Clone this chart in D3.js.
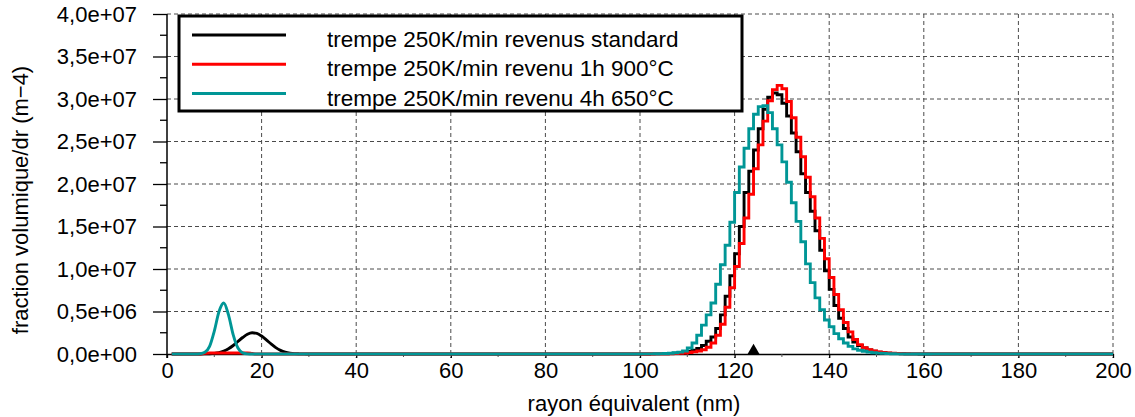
<!DOCTYPE html>
<html>
<head>
<meta charset="utf-8">
<script src="https://cdn.jsdelivr.net/npm/d3@7"></script>
<style>
  body { margin: 0; background: #fff; }
  text { font-family: "Liberation Sans", Arial, sans-serif; fill: #000; }
</style>
</head>
<body>
<div id="chart"></div>
<script>
//data, values in units of 1e7 m-4
const unit = 1e7;

const xTicks = [0, 20, 40, 60, 80, 100, 120, 140, 160, 180, 200];
const xMinorTicks = [10, 30, 50, 70, 90, 110, 130, 150, 170, 190];
const yTicks = [0, 0.5e7, 1e7, 1.5e7, 2e7, 2.5e7, 3e7, 3.5e7, 4e7];
const yTickLabels = ["0,0e+00", "0,5e+06", "1,0e+07", "1,5e+07", "2,0e+07",
                     "2,5e+07", "3,0e+07", "3,5e+07", "4,0e+07"];
const yMinorTicks = [0.25e7, 0.75e7, 1.25e7, 1.75e7, 2.25e7, 2.75e7, 3.25e7, 3.75e7];

const seriesNames = ["trempe 250K/min revenus standard",
                     "trempe 250K/min revenu 1h 900°C",
                     "trempe 250K/min revenu 4h 650°C"];
const seriesColors = ["#000000", "#ff0000", "#009696"];

//small population, sampled every nm (smooth part of the curves)
const smallRadii = [1, 2, 3, 4, 5, 6, 7, 8, 9, 10, 11, 12, 13, 14, 15,
                    16, 17, 18, 19, 20, 21, 22, 23, 24, 25, 26, 27, 28, 29, 30];
const smallStandard = [0, 0, 0, 0, 0, 0, 0, 0.001, 0.003, 0.008, 0.017, 0.034, 0.061, 0.10, 0.147,
                       0.194, 0.232, 0.25, 0.242, 0.211, 0.166, 0.118, 0.075, 0.043, 0.022, 0.01, 0.004, 0.002, 0.001, 0];
const small900 = [0, 0, 0, 0, 0, 0, 0, 0.008, 0.012, 0.012, 0.012, 0.012, 0.012, 0.012, 0.012,
                  0.012, 0.012, 0.006, 0, 0, 0, 0, 0, 0, 0, 0, 0, 0, 0, 0];
const small650 = [0, 0, 0, 0, 0, 0, 0.003, 0.02, 0.09, 0.27, 0.50, 0.60, 0.46, 0.225, 0.07,
                  0.014, 0.002, 0, 0, 0, 0, 0, 0, 0, 0, 0, 0, 0, 0, 0];

//main population, 1 nm bins starting at binStart
const binStart = 100;
const binsStandard = [0, 0, 0.001, 0.001, 0.002, 0.003, 0.005, 0.008, 0.012, 0.02,
                      0.03, 0.045, 0.065, 0.10, 0.15, 0.20, 0.30, 0.46, 0.68, 0.92,
                      1.18, 1.50, 1.90, 2.15, 2.40, 2.65, 2.88, 3.02, 3.07, 3.05,
                      2.95, 2.80, 2.60, 2.38, 2.12, 1.90, 1.68, 1.45, 1.22, 0.98,
                      0.76, 0.57, 0.42, 0.30, 0.20, 0.14, 0.10, 0.07, 0.048, 0.033,
                      0.022, 0.015, 0.010, 0.007, 0.005, 0.003, 0.002, 0.001, 0.001];
const bins900 = [0, 0, 0, 0.001, 0.001, 0.002, 0.003, 0.005, 0.008, 0.012,
                 0.018, 0.025, 0.035, 0.05, 0.08, 0.13, 0.22, 0.35, 0.55, 0.78,
                 1.03, 1.30, 1.60, 1.88, 2.18, 2.46, 2.74, 2.98, 3.11, 3.16,
                 3.12, 2.97, 2.78, 2.55, 2.32, 2.08, 1.85, 1.60, 1.36, 1.12,
                 0.90, 0.70, 0.52, 0.37, 0.26, 0.17, 0.11, 0.075, 0.05, 0.035,
                 0.024, 0.016, 0.011, 0.008, 0.006, 0.004, 0.003, 0.002, 0.002, 0.001,
                 0.001, 0.001];
const bins650 = [0.001, 0.001, 0.002, 0.003, 0.004, 0.006, 0.009, 0.014, 0.022, 0.035,
                 0.07, 0.13, 0.22, 0.34, 0.46, 0.60, 0.82, 1.05, 1.28, 1.55,
                 1.90, 2.20, 2.42, 2.65, 2.82, 2.91, 2.92, 2.84, 2.65, 2.46,
                 2.26, 2.02, 1.78, 1.56, 1.32, 1.06, 0.84, 0.66, 0.52, 0.40,
                 0.32, 0.24, 0.18, 0.13, 0.09, 0.06, 0.045, 0.032, 0.022, 0.015,
                 0.010, 0.007, 0.005, 0.003, 0.002, 0.001];

const markerRadii = [124];

const xTitle = "rayon équivalent (nm)";
const yTitle = "fraction volumique/dr (m\u22124)";

//layout
const width = 1135,
    height = 417,
    plotLeft = 167,
    plotRight = 1113,
    plotTop = 14,
    plotBottom = 354,
    fontSize = 22;

const x = d3.scaleLinear().domain([0, 200]).range([plotLeft, plotRight]);
const y = d3.scaleLinear().domain([0, 4e7]).range([plotBottom, plotTop]);

const series = [
  {name: seriesNames[0], color: seriesColors[0], small: smallStandard, bins: binsStandard},
  {name: seriesNames[1], color: seriesColors[1], small: small900, bins: bins900},
  {name: seriesNames[2], color: seriesColors[2], small: small650, bins: bins650}
];

let svg = d3.select("#chart").append("svg")
    .attr("width", width)
    .attr("height", height)
    .style("display", "block");

//dashed grid
const gridColor = "#4a4a4a";
svg.append("g").selectAll("line")
    .data(yTicks.slice(1))
  .enter().append("line")
    .attr("x1", plotLeft).attr("x2", plotRight)
    .attr("y1", d => y(d)).attr("y2", d => y(d))
    .attr("stroke", gridColor).attr("stroke-width", 1)
    .attr("stroke-dasharray", "4,3");

svg.append("g").selectAll("line")
    .data(xTicks.slice(1))
  .enter().append("line")
    .attr("x1", d => x(d)).attr("x2", d => x(d))
    .attr("y1", plotTop).attr("y2", plotBottom + 4)
    .attr("stroke", gridColor).attr("stroke-width", 1)
    .attr("stroke-dasharray", "4,3");

//axes
let yAxis = svg.append("g")
    .attr("transform", "translate(" + plotLeft + ",0)")
    .call(d3.axisLeft(y)
      .tickValues(yTicks)
      .tickFormat((d, i) => yTickLabels[i])
      .tickSize(14)
      .tickSizeOuter(0)
      .tickPadding(16));

yAxis.selectAll("text").style("font-size", fontSize + "px").attr("fill", "#000");
yAxis.selectAll("line").attr("stroke", "#000").attr("stroke-width", 1.3);
yAxis.select(".domain").attr("stroke", "#000").attr("stroke-width", 1.5)
    .attr("d", "M0," + plotTop + "V" + (plotBottom + 4));

svg.append("g").selectAll("line")
    .data(yMinorTicks)
  .enter().append("line")
    .attr("x1", plotLeft - 7).attr("x2", plotLeft)
    .attr("y1", d => y(d)).attr("y2", d => y(d))
    .attr("stroke", "#000").attr("stroke-width", 1.3);

let xAxis = svg.append("g")
    .attr("transform", "translate(0," + plotBottom + ")")
    .call(d3.axisBottom(x)
      .tickValues(xTicks)
      .tickFormat(d3.format("d"))
      .tickSize(4)
      .tickSizeOuter(0)
      .tickPadding(4));

xAxis.selectAll("text").style("font-size", fontSize + "px").attr("fill", "#000");
xAxis.selectAll("line").attr("stroke", "#000").attr("stroke-width", 1.3);
xAxis.select(".domain").attr("stroke", "#000").attr("stroke-width", 1.5);

svg.append("g").selectAll("line")
    .data(xMinorTicks)
  .enter().append("line")
    .attr("x1", d => x(d)).attr("x2", d => x(d))
    .attr("y1", plotBottom).attr("y2", plotBottom + 3)
    .attr("stroke", "#555").attr("stroke-width", 1);

//titles
svg.append("text")
    .attr("x", 634)
    .attr("y", 411)
    .attr("text-anchor", "middle")
    .style("font-size", fontSize + "px")
    .text(xTitle);

svg.append("text")
    .attr("transform", "translate(20,200) rotate(-90)")
    .attr("text-anchor", "middle")
    .attr("dominant-baseline", "central")
    .style("font-size", fontSize + "px")
    .text(yTitle);

//curves: smooth small population then 1 nm step bins
const smoothLine = d3.line()
    .x(d => x(d[0]))
    .y(d => y(d[1] * unit))
    .curve(d3.curveMonotoneX);

const stepLine = d3.line()
    .x(d => x(d[0]))
    .y(d => y(d[1] * unit))
    .curve(d3.curveStepAfter);

let curves = svg.append("g");

series.forEach(function(s) {
  let smallPts = smallRadii.map((r, i) => [r, s.small[i]]);
  let lastR = smallRadii[smallRadii.length - 1];
  let stepPts = [[lastR, 0]]
    .concat(s.bins.map((v, i) => [binStart + i, v]))
    .concat([[binStart + s.bins.length, 0], [200, 0]]);

  curves.append("path")
      .attr("d", smoothLine(smallPts))
      .attr("fill", "none")
      .attr("stroke", s.color)
      .attr("stroke-width", 2.9)
      .attr("stroke-linejoin", "round");

  curves.append("path")
      .attr("d", stepLine(stepPts))
      .attr("fill", "none")
      .attr("stroke", s.color)
      .attr("stroke-width", 2.9)
      .attr("stroke-linejoin", "miter");
});

//marker triangle on the axis
svg.append("g").selectAll("path")
    .data(markerRadii)
  .enter().append("path")
    .attr("d", d3.symbol().type(d3.symbolTriangle).size(70))
    .attr("transform", d => "translate(" + x(d) + "," + (plotBottom - 3) + ")")
    .attr("fill", "#000");

//legend
const legendX = 179,
    legendY = 16,
    legendW = 563,
    legendH = 95,
    legendRow = 29.3;

let legend = svg.append("g");

legend.append("rect")
    .attr("x", legendX)
    .attr("y", legendY)
    .attr("width", legendW)
    .attr("height", legendH)
    .attr("fill", "#fff")
    .attr("stroke", "#000")
    .attr("stroke-width", 3);

let rows = legend.selectAll(".legend")
    .data(series)
  .enter().append("g")
    .attr("class", "legend")
    .attr("transform", (d, i) => "translate(0," + (legendY + 19 + i * legendRow) + ")");

rows.append("line")
    .attr("x1", legendX + 13)
    .attr("x2", legendX + 107)
    .attr("stroke", d => d.color)
    .attr("stroke-width", 3);

rows.append("text")
    .attr("x", legendX + 148)
    .attr("y", 12)
    .style("font-size", "22.5px")
    .text(d => d.name);
</script>
</body>
</html>
